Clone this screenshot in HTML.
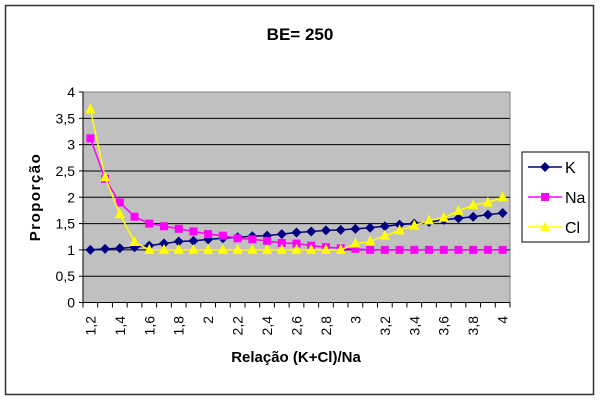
<!DOCTYPE html>
<html><head><meta charset="utf-8"><style>
html,body{margin:0;padding:0;background:#fff;}
svg{display:block;font-family:"Liberation Sans",Arial,sans-serif;}
</style></head><body>
<svg id="chart" width="600" height="402" viewBox="0 0 600 402">
<rect x="5.5" y="5.5" width="588" height="389" fill="#fff" stroke="#333" stroke-width="1.5"/>
<text x="300" y="40" text-anchor="middle" font-size="17" font-weight="bold">BE= 250</text>
<rect x="83" y="92" width="427" height="210.5" fill="#c0c0c0" stroke="#808080"/>
<g id="grid"></g><g id="axes"></g><g id="series"></g>
<text transform="translate(40,197) rotate(-90)" text-anchor="middle" font-size="15" font-weight="bold" letter-spacing="1.5">Proporção</text>
<text x="296" y="362" text-anchor="middle" font-size="15" font-weight="bold">Relação (K+Cl)/Na</text>
<g>
<rect x="522" y="152" width="67" height="90" fill="#fff" stroke="#000"/>
<line x1="528" y1="167" x2="562" y2="167" stroke="#000080" stroke-width="1.5"/>
<path d="M545,162 L550,167 L545,172 L540,167Z" fill="#000080"/>
<text x="565" y="173" font-size="16">K</text>
<line x1="528" y1="197" x2="562" y2="197" stroke="#ff00ff" stroke-width="1.5"/>
<rect x="541" y="193" width="8" height="8" fill="#ff00ff"/>
<text x="565" y="203" font-size="16">Na</text>
<line x1="528" y1="227" x2="562" y2="227" stroke="#ffff00" stroke-width="1.5"/>
<path d="M545,222 L550,231 L540,231Z" fill="#ffff00"/>
<text x="565" y="233" font-size="16">Cl</text>
</g>
</svg>
<script>
const categories=["1,2","1,3","1,4","1,5","1,6","1,7","1,8","1,9","2","2,1","2,2","2,3","2,4","2,5","2,6","2,7","2,8","2,9","3","3,1","3,2","3,3","3,4","3,5","3,6","3,7","3,8","3,9","4"];
const kValues=[1.0,1.02,1.03,1.05,1.08,1.12,1.16,1.17,1.2,1.22,1.24,1.26,1.27,1.3,1.33,1.35,1.37,1.38,1.4,1.42,1.45,1.48,1.5,1.53,1.57,1.6,1.63,1.67,1.7];
const naValues=[3.12,2.35,1.9,1.63,1.5,1.45,1.4,1.35,1.3,1.27,1.22,1.2,1.17,1.13,1.12,1.08,1.05,1.03,1.02,1,1,1,1,1,1,1,1,1,1];
const clValues=[3.67,2.38,1.68,1.15,1,1,1,1,1,1,1,1,1,1,1,1,1,1,1.12,1.16,1.27,1.37,1.46,1.56,1.61,1.74,1.85,1.9,2.0];
const yTicks=["0","0,5","1","1,5","2","2,5","3","3,5","4"];
const NS="http://www.w3.org/2000/svg";
const X0=83,X1=510,Y0=302.5,Y1=92,YMAX=4;
const band=(X1-X0)/categories.length;
function xs(i){return X0+band*(i+0.5);}
function ys(v){return Y0-(v/YMAX)*(Y0-Y1);}
function mk(tag,at,parent){const e=document.createElementNS(NS,tag);for(const k in at)e.setAttribute(k,at[k]);parent.appendChild(e);return e;}
const grid=document.getElementById('grid'),axes=document.getElementById('axes'),ser=document.getElementById('series');
yTicks.forEach((t,i)=>{const v=i*0.5,y=ys(v);
 if(i>0&&i<yTicks.length-1){const g=mk('line',{x1:X0,x2:X1,y1:y,y2:y,stroke:'#000','stroke-width':1},grid);
 
 }
 mk('line',{x1:X0-4,x2:X0,y1:y,y2:y,stroke:'#000'},axes);
 const tx=mk('text',{x:X0-8,y:y+5,'text-anchor':'end','font-size':14},axes);tx.textContent=t;
 
 
});
mk('line',{x1:X0,x2:X0,y1:Y1,y2:Y0,stroke:'#000'},axes);
mk('line',{x1:X0,x2:X1,y1:Y0,y2:Y0,stroke:'#000'},axes);
for(let i=0;i<=categories.length;i++){const x=X0+band*i;mk('line',{x1:x,x2:x,y1:Y0,y2:Y0+5,stroke:'#000'},axes);}
categories.forEach((c,i)=>{if(i%2)return;const x=xs(i);
 const tx=mk('text',{transform:`translate(${x+5},316) rotate(-90)`,'text-anchor':'end','font-size':14},axes);tx.textContent=c;
 
 
});
function drawSeries(vals,color,shape,name){
 const g=mk('g',{},ser);
 
 
 mk('polyline',{points:vals.map((v,i)=>xs(i)+','+ys(v)).join(' '),fill:'none',stroke:color,'stroke-width':1.5},g);
 vals.forEach((v,i)=>{const x=xs(i),y=ys(v);let m;
  if(shape==='d')m=mk('path',{d:`M${x},${y-5}L${x+5},${y}L${x},${y+5}L${x-5},${y}Z`,fill:color},g);
  else if(shape==='s')m=mk('rect',{x:x-4,y:y-4,width:8,height:8,fill:color},g);
  else m=mk('path',{d:`M${x},${y-6}L${x+5},${y+4}L${x-5},${y+4}Z`,fill:color},g);
  
  
 });
}
drawSeries(kValues,'#000080','d','series-k');
drawSeries(naValues,'#ff00ff','s','series-na');
drawSeries(clValues,'#ffff00','t','series-cl');
</script>
</body></html>
